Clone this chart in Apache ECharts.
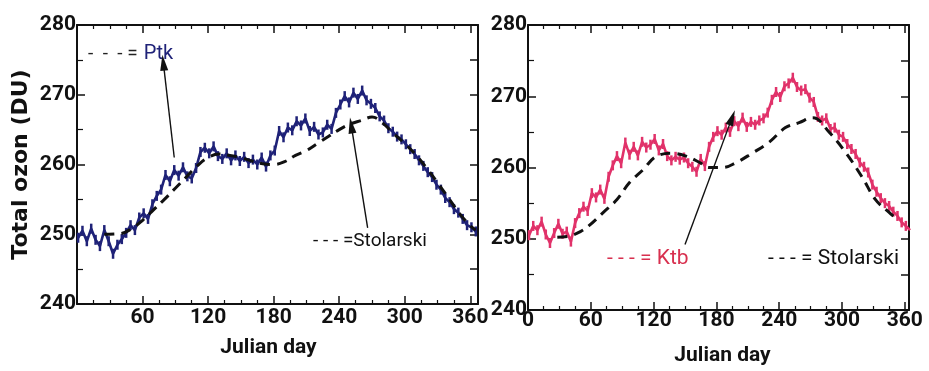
<!DOCTYPE html>
<html>
<head>
<meta charset="utf-8">
<script src="https://cdn.jsdelivr.net/npm/echarts@6/dist/echarts.min.js"></script>
<style>
  html, body { margin: 0; padding: 0; background: #ffffff; }
  #chart { width: 929px; height: 371px; }
</style>
</head>
<body>
<div id="chart"></div>
<script>
// Julian day sampling for the station series (every 4 days)
var stationDays = [1,5,9,13,17,21,25,29,33,37,41,45,49,53,57,61,65,69,73,77,81,85,89,93,97,101,105,109,113,117,121,125,129,133,137,141,145,149,153,157,161,165,169,173,177,181,185,189,193,197,201,205,209,213,217,221,225,229,233,237,241,245,249,253,257,261,265,269,273,277,281,285,289,293,297,301,305,309,313,317,321,325,329,333,337,341,345,349,353,357,361,365];

// Total ozone (DU) at Patiala
var ptkOzone = [249.5,250.5,249.0,250.8,249.2,248.3,250.6,249.0,247.2,248.5,249.3,250.2,251.3,250.6,252.4,253.0,252.2,254.3,255.5,256.4,258.5,257.6,259.2,258.4,259.6,258.3,258.0,259.5,261.8,262.4,261.6,262.6,261.2,260.8,261.6,260.6,261.3,260.5,261.1,260.2,260.7,260.0,261.0,259.7,261.3,262.0,264.8,263.9,265.3,264.9,266.2,265.6,266.6,264.8,265.4,264.3,264.6,265.7,265.1,267.4,268.6,269.8,268.9,270.3,269.4,270.6,269.2,268.7,268.1,266.9,266.3,265.2,264.7,264.0,263.6,262.9,262.2,261.5,260.6,259.8,258.9,258.2,257.1,256.4,255.2,254.6,253.6,253.1,252.2,251.3,251.0,250.4];

// Total ozone (DU) at Kathmandu
var ktbOzone = [250.5,251.8,251.2,252.4,250.6,249.4,250.8,252.1,250.7,251.0,249.6,252.2,253.6,254.5,253.9,256.4,255.8,256.9,255.6,258.7,260.3,261.6,260.6,263.5,261.8,262.9,261.7,263.6,262.8,263.2,264.0,262.4,263.3,261.6,261.0,261.5,261.1,261.4,260.6,260.1,259.4,261.2,260.2,262.9,264.3,265.1,264.6,265.6,265.0,266.5,265.8,267.0,265.7,266.4,266.0,266.6,266.9,267.7,269.5,270.6,269.9,271.4,271.8,272.6,271.3,270.8,271.0,269.8,269.2,267.1,266.6,266.9,265.4,265.6,264.6,264.3,263.3,262.6,261.9,260.7,260.1,259.3,257.6,256.6,255.7,255.0,254.6,253.8,253.2,252.3,251.8,251.2];

// Stolarski climatology, left panel
var stolDaysA = [25,40,50,60,70,80,90,100,110,120,130,140,150,160,170,180,190,200,210,220,230,240,250,260,270,280,290,300,310,320,330,340,350,360,365];
var stolOzoneA = [250.0,250.1,250.8,252.0,253.5,255.0,256.6,258.2,259.8,261.0,261.5,261.3,261.0,260.5,260.1,260.0,260.4,261.3,262.0,263.0,264.0,265.0,265.8,266.3,266.8,265.9,264.4,263.0,261.4,259.5,257.4,255.2,253.0,251.2,250.6];

// Stolarski climatology, right panel
var stolDaysB = [28,40,50,58,72,85,97,110,122,137,151,164,173,186,199,214,230,246,259,272,288,304,319,332,345,352];
var stolOzoneB = [250.2,250.4,251.0,251.8,253.7,255.5,257.9,259.7,261.5,262.0,261.6,260.7,260.0,260.0,260.7,262.0,263.5,265.6,266.3,267.0,264.9,262.0,258.7,255.5,253.7,252.8];

// Arrow endpoints [day, DU]: tail then head
var ptkArrow = [[89, 261.0], [79, 274.6]];
var stolArrowA = [[266, 250.9], [251, 265.6]];
var ktbArrow = [[150, 249.2], [195, 267.0]];

var xTickLabels = [0, 60, 120, 180, 240, 300, 360];
var yTickLabels = [240, 250, 260, 270, 280];

function pairs(xs, ys) {
  return xs.map(function (x, i) { return [x, ys[i]]; });
}

var labelFont = "Roboto, 'Liberation Sans', sans-serif";
var textFont = "Roboto, 'Open Sans', sans-serif";
var titleFont = "'DejaVu Sans', Verdana, sans-serif";
var navy = '#1f2278';
var crimson = '#e1326a';

function bottomAxis(gridIndex, max, showZero) {
  return {
    type: 'value', gridIndex: gridIndex, position: 'bottom',
    min: 0, max: max, interval: 60,
    name: 'Julian day', nameLocation: 'middle',
    nameGap: gridIndex === 0 ? 33 : 35,
    nameTextStyle: { fontFamily: labelFont, fontWeight: 'bold', fontSize: 21, color: '#111',
      padding: gridIndex === 0 ? [0, 18, 0, 0] : [0, 0, 0, 8] },
    axisLine: { show: true, onZero: false, lineStyle: { color: '#111', width: 2 } },
    axisTick: { show: true, inside: true, length: 8, lineStyle: { color: '#111', width: 1.5 } },
    minorTick: { show: true, splitNumber: 4, length: 4, lineStyle: { color: '#111', width: 1.2 } },
    splitLine: { show: false },
    axisLabel: {
      margin: gridIndex === 0 ? 3 : 0,
      fontFamily: labelFont, fontWeight: 'bold', fontSize: 21, color: '#111',
      formatter: function (v) {
        if (xTickLabels.indexOf(v) < 0) return '';
        if (v === 0 && !showZero) return '';
        return String(v);
      }
    }
  };
}

function topAxis(gridIndex, max) {
  return {
    type: 'value', gridIndex: gridIndex, position: 'top',
    min: 0, max: max, interval: 60,
    axisLine: { show: true, onZero: false, lineStyle: { color: '#111', width: 2 } },
    axisTick: { show: true, inside: true, length: 8, lineStyle: { color: '#111', width: 1.5 } },
    minorTick: { show: true, splitNumber: 4, length: 4, lineStyle: { color: '#111', width: 1.2 } },
    splitLine: { show: false },
    axisLabel: { show: false }
  };
}

function leftAxis(gridIndex, withName) {
  var ax = {
    type: 'value', gridIndex: gridIndex, position: 'left',
    min: 240, max: 280, interval: 10,
    axisLine: { show: true, onZero: false, lineStyle: { color: '#111', width: 2 } },
    axisTick: { show: true, inside: true, length: 8, lineStyle: { color: '#111', width: 1.5 } },
    minorTick: { show: true, splitNumber: 2, length: 6, lineStyle: { color: '#111', width: 1.2 } },
    splitLine: { show: false },
    axisLabel: {
      margin: 1, padding: [0, 0, 7, 0],
      fontFamily: labelFont, fontWeight: 'bold', fontSize: 21, color: '#111',
      formatter: function (v) { return yTickLabels.indexOf(v) >= 0 ? String(v) : ''; }
    }
  };
  if (withName) {
    ax.name = 'Total ozon (DU)';
    ax.nameLocation = 'middle';
    ax.nameGap = 45;
    ax.nameTextStyle = { fontFamily: titleFont, fontWeight: 'bold', fontSize: 22, color: '#111' };
  }
  return ax;
}

function rightAxis(gridIndex) {
  return {
    type: 'value', gridIndex: gridIndex, position: 'right',
    min: 240, max: 280, interval: 10,
    axisLine: { show: true, onZero: false, lineStyle: { color: '#111', width: 2 } },
    axisTick: { show: true, inside: true, length: 8, lineStyle: { color: '#111', width: 1.5 } },
    minorTick: { show: true, splitNumber: 2, length: 8, lineStyle: { color: '#111', width: 1.5 } },
    splitLine: { show: false },
    axisLabel: { show: false }
  };
}

function arrowMark(seg) {
  return {
    silent: true,
    symbol: ['none', 'triangle'],
    symbolSize: [8, 16],
    label: { show: false },
    lineStyle: { color: '#111', width: 1.4, type: 'solid' },
    emphasis: { disabled: true },
    data: [[{ coord: seg[0] }, { coord: seg[1] }]]
  };
}

function stationSeries(name, color, values, xi, yi, arrow) {
  var s = {
    name: name, type: 'line', xAxisIndex: xi, yAxisIndex: yi,
    data: pairs(stationDays, values),
    symbol: 'rect', symbolSize: [2.5, 10], showSymbol: true,
    itemStyle: { color: color },
    lineStyle: { color: color, width: 2.6 },
    z: 3, animation: false
  };
  if (arrow) s.markLine = arrowMark(arrow);
  return s;
}

function stolSeries(days, values, xi, yi, arrow) {
  var s = {
    name: 'Stolarski', type: 'line', xAxisIndex: xi, yAxisIndex: yi,
    data: pairs(days, values),
    smooth: 0.4, showSymbol: false,
    lineStyle: { color: '#111', width: 3, type: [10, 7] },
    z: 4, animation: false
  };
  if (arrow) s.markLine = arrowMark(arrow);
  return s;
}

var chart = echarts.init(document.getElementById('chart'), null, { renderer: 'canvas' });

chart.setOption({
  backgroundColor: '#ffffff',
  animation: false,
  grid: [
    { left: 77, top: 25, width: 401, height: 279 },
    { left: 528, top: 25, width: 381, height: 286 }
  ],
  xAxis: [
    bottomAxis(0, 367, false),
    topAxis(0, 367),
    bottomAxis(1, 364, true),
    topAxis(1, 364)
  ],
  yAxis: [
    leftAxis(0, true),
    rightAxis(0),
    leftAxis(1, false),
    rightAxis(1)
  ],
  series: [
    stationSeries('Ptk', navy, ptkOzone, 0, 0, ptkArrow),
    stolSeries(stolDaysA, stolOzoneA, 0, 0, stolArrowA),
    stationSeries('Ktb', crimson, ktbOzone, 2, 2, ktbArrow),
    stolSeries(stolDaysB, stolOzoneB, 2, 2, null)
  ],
  graphic: [
    {
      type: 'text', left: 88, top: 44, silent: true,
      style: {
        text: '{d|-  -  - =}{g| }{n|Ptk}',
        rich: {
          d: { fill: '#222', fontFamily: textFont, fontSize: 19 },
          g: { width: 6 },
          n: { fill: navy, fontFamily: textFont, fontSize: 20 }
        }
      }
    },
    {
      type: 'text', left: 313, top: 232, silent: true,
      style: { text: '- - - =Stolarski', fill: '#111', fontFamily: textFont, fontSize: 19 }
    },
    {
      type: 'text', left: 607, top: 248, silent: true,
      style: { text: '- - - = Ktb', fill: '#d8304f', fontFamily: textFont, fontSize: 21 }
    },
    {
      type: 'text', left: 768, top: 248, silent: true,
      style: { text: '- - - = Stolarski', fill: '#111', fontFamily: textFont, fontSize: 21 }
    }
  ]
});
</script>
</body>
</html>
